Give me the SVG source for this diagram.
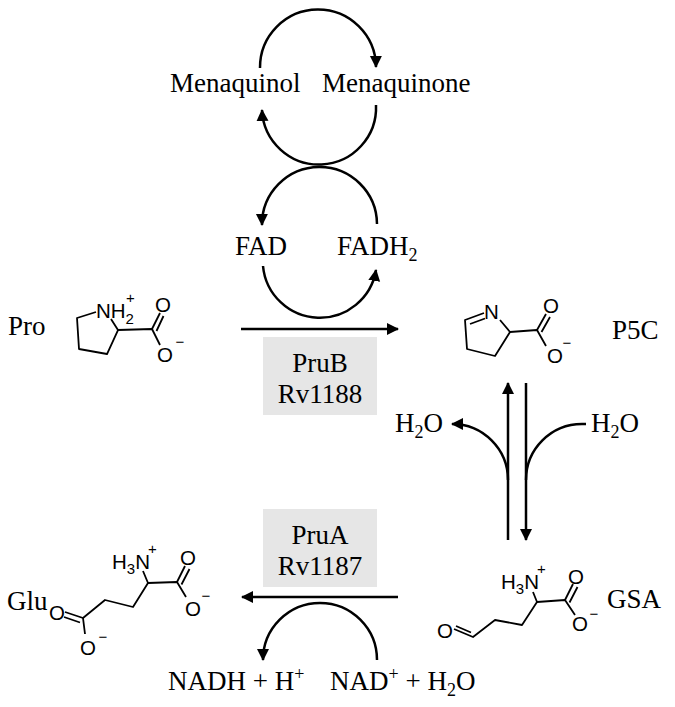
<svg xmlns="http://www.w3.org/2000/svg" width="675" height="707" viewBox="0 0 675 707">
<defs>
<style>
.t{font-family:"Liberation Serif","Times New Roman",serif;font-size:27px;fill:#000}
.s{font-family:"Liberation Sans",Arial,sans-serif;font-size:20.5px;fill:#000}
.m{font-family:"Liberation Sans",Arial,sans-serif;font-size:15px;fill:#000}
.a{fill:none;stroke:#000;stroke-width:2.5}
.b{fill:none;stroke:#000;stroke-width:1.8;stroke-linejoin:round}
.box{fill:#e6e6e6}
</style>
<marker id="ah" markerUnits="userSpaceOnUse" markerWidth="14" markerHeight="14" refX="11" refY="6" orient="auto">
<path d="M0,0 L12,6 L0,12 z" fill="#000"/>
</marker>
</defs>
<rect width="675" height="707" fill="#fff"/>

<g id="connectors">
<path class="a" d="M260,68 A58,58 0 0 1 376,67" marker-end="url(#ah)"/>
<path class="a" d="M376,105 A57,57 0 0 1 262,110" marker-end="url(#ah)"/>
<path class="a" d="M377,224 A57,57 0 0 0 262,225" marker-end="url(#ah)"/>
<path class="a" d="M263,266 A57,57 0 0 0 376,270" marker-end="url(#ah)"/>
<path class="a" d="M241,329 L398,329" marker-end="url(#ah)"/>
<path class="a" d="M508,540 L508,383" marker-end="url(#ah)"/>
<path class="a" d="M526,383 L526,540" marker-end="url(#ah)"/>
<path class="a" d="M508,480 A56,56 0 0 0 452,424" marker-end="url(#ah)"/>
<path class="a" d="M526,480 A56,56 0 0 1 582,424 L586,424"/>
<path class="a" d="M398,597 L242,597" marker-end="url(#ah)"/>
<path class="a" d="M377,660 A57,57 0 0 0 263,660" marker-end="url(#ah)"/>
</g>

<g id="menaquinol"><text class="t" x="170" y="92">Menaquinol</text></g>
<g id="menaquinone"><text class="t" x="322" y="92">Menaquinone</text></g>
<g id="fad"><text class="t" x="235" y="255">FAD</text></g>
<g id="fadh2"><text class="t" x="337" y="255">FADH<tspan font-size="18" dy="6">2</tspan></text></g>

<g id="pro">
<text class="t" x="8" y="335">Pro</text>
<path class="b" d="M96,312 L77,318 L79,349 L107,354 L118,330 L111,319"/>
<path class="b" d="M118,330 L152,329 L160,345"/>
<path class="b" d="M152,329 L160,313 M156.5,331 L163.5,316"/>
<text class="s" x="96" y="318">NH<tspan font-size="15" dy="6">2</tspan><tspan font-size="15" dx="-8" dy="-21">+</tspan></text>
<text class="s" x="163" y="311.5" text-anchor="middle">O</text>
<text class="s" x="165" y="361.5" text-anchor="middle">O</text>
<text class="m" x="180" y="347" text-anchor="middle">−</text>
</g>

<g id="p5c">
<text class="t" x="612" y="339">P5C</text>
<path class="b" d="M484,313 L465,320 L467,349 L495,356 L510,332 L500,320"/>
<path class="b" d="M470,324 L485,318.5"/>
<path class="b" d="M510,332 L537,330 L546,346"/>
<path class="b" d="M537,330 L546,314 M541.5,332 L550,317"/>
<text class="s" x="491.5" y="319" text-anchor="middle">N</text>
<text class="s" x="551" y="312.5" text-anchor="middle">O</text>
<text class="s" x="555" y="362.5" text-anchor="middle">O</text>
<text class="m" x="567" y="348" text-anchor="middle">−</text>
</g>

<g id="h2o-left"><text class="t" x="395" y="432">H<tspan font-size="18" dy="6">2</tspan><tspan dy="-6">O</tspan></text></g>
<g id="h2o-right"><text class="t" x="591" y="432">H<tspan font-size="18" dy="6">2</tspan><tspan dy="-6">O</tspan></text></g>

<g id="prub">
<rect class="box" x="263" y="337" width="114" height="78"/>
<text class="t" x="320" y="372" text-anchor="middle">PruB</text>
<text class="t" x="320" y="403" text-anchor="middle">Rv1188</text>
</g>

<g id="prua">
<rect class="box" x="263" y="509" width="114" height="78"/>
<text class="t" x="320" y="544" text-anchor="middle">PruA</text>
<text class="t" x="320" y="575" text-anchor="middle">Rv1187</text>
</g>

<g id="gsa">
<text class="t" x="607" y="608">GSA</text>
<path class="b" d="M533,592 L537,602 L565,600 L575,615"/>
<path class="b" d="M565,600 L573,584 M569.5,602.5 L577.5,587"/>
<path class="b" d="M537,602 L522,625 L495,620 L473,637 L454,629 M471,632.5 L456,626"/>
<text class="s" x="501" y="589">H<tspan font-size="15" dy="5">3</tspan><tspan dy="-5">N</tspan><tspan font-size="15" dx="-2" dy="-15">+</tspan></text>
<text class="s" x="576" y="583.5" text-anchor="middle">O</text>
<text class="s" x="580" y="630.5" text-anchor="middle">O</text>
<text class="m" x="594" y="619" text-anchor="middle">−</text>
<text class="s" x="445" y="637.5" text-anchor="middle">O</text>
</g>

<g id="glu">
<text class="t" x="7" y="610">Glu</text>
<path class="b" d="M143,571 L148,583 L177,582 L186,597"/>
<path class="b" d="M177,582 L185,566 M181.5,584.5 L189.5,569"/>
<path class="b" d="M148,583 L133,607 L105,600 L83,618 L85,634"/>
<path class="b" d="M83,618 L65,612 M80,622.5 L64,617"/>
<text class="s" x="112" y="569">H<tspan font-size="15" dy="5">3</tspan><tspan dy="-5">N</tspan><tspan font-size="15" dx="-2" dy="-15">+</tspan></text>
<text class="s" x="188" y="564.5" text-anchor="middle">O</text>
<text class="s" x="193" y="615.5" text-anchor="middle">O</text>
<text class="m" x="206" y="601" text-anchor="middle">−</text>
<text class="s" x="57" y="619.5" text-anchor="middle">O</text>
<text class="s" x="88" y="654.5" text-anchor="middle">O</text>
<text class="m" x="103" y="642" text-anchor="middle">−</text>
</g>

<g id="nadh"><text class="t" x="168" y="690">NADH + H<tspan font-size="18" dy="-10">+</tspan></text></g>
<g id="nad"><text class="t" x="330" y="690">NAD<tspan font-size="18" dy="-10">+</tspan><tspan dy="10"> + H</tspan><tspan font-size="18" dy="6">2</tspan><tspan dy="-6">O</tspan></text></g>
</svg>
